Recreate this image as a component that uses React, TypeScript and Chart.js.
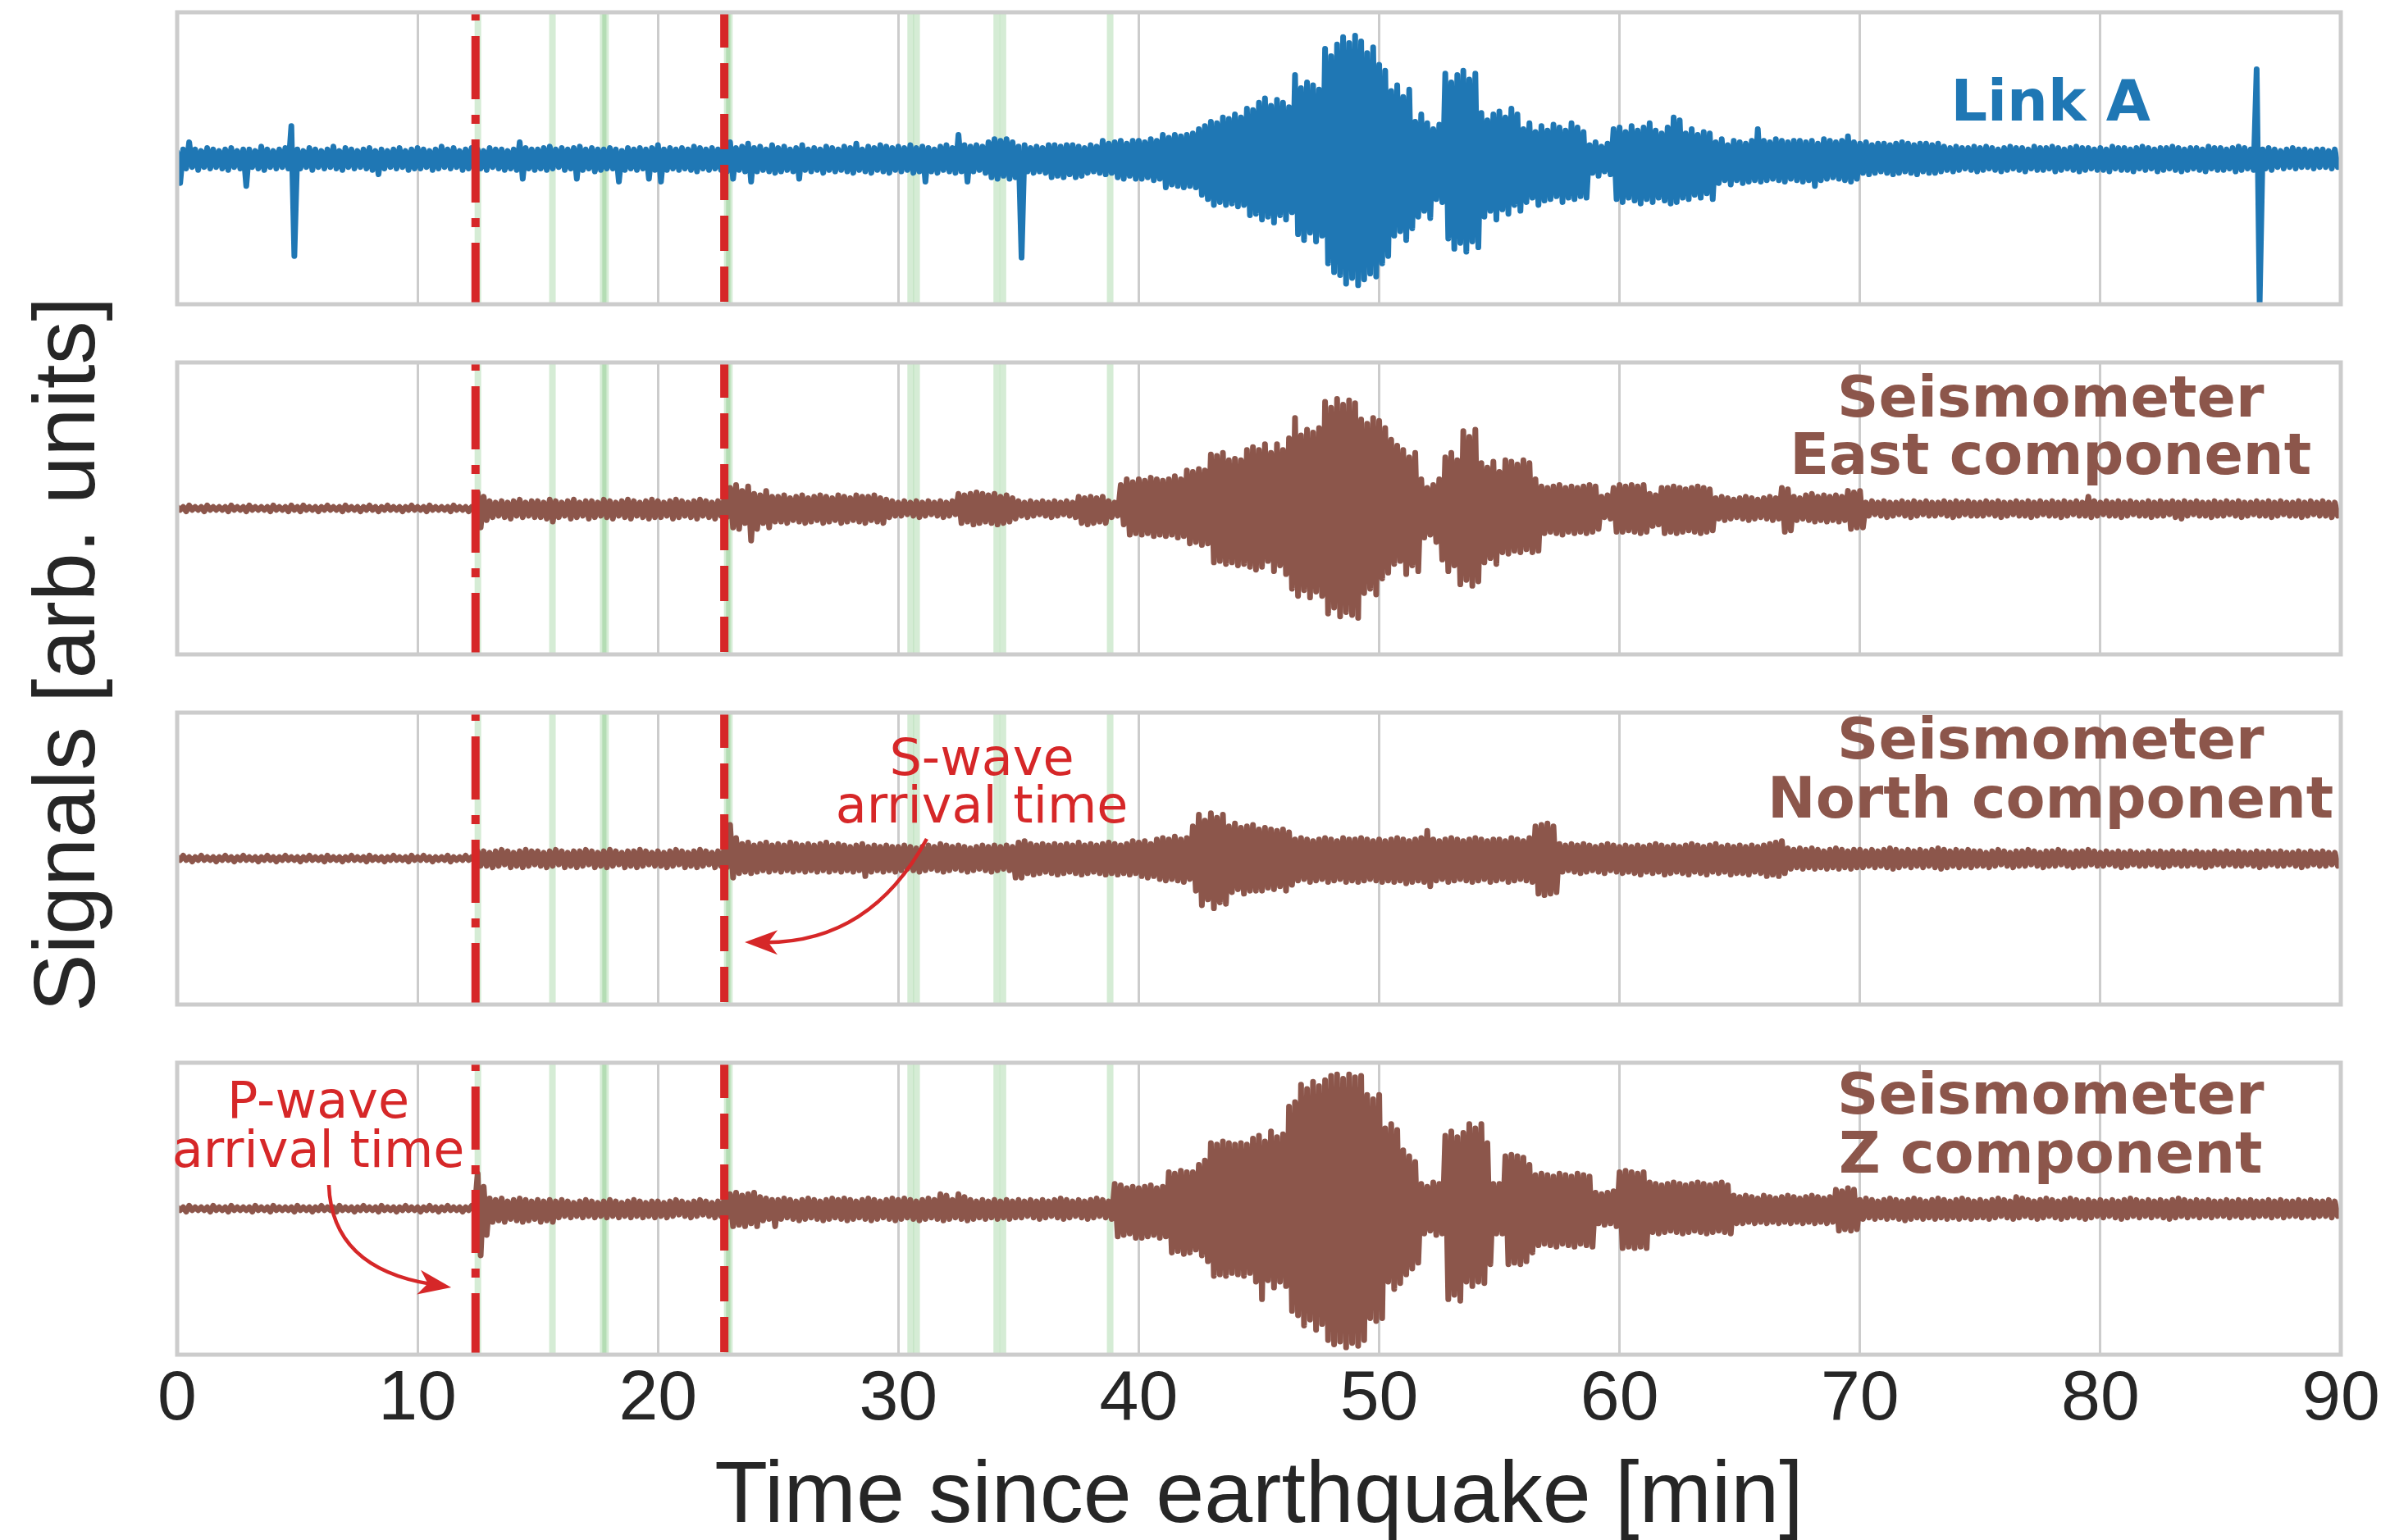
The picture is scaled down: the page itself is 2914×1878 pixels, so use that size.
import React, { useEffect, useRef } from "react";
import { Chart, registerables } from "chart.js";

Chart.register(...registerables);

// ---- figure layout (pixels) ----
const FIG_W = 2914;
const FIG_H = 1878;
const CANVAS_H = 1900;
const PLOT_LEFT = 216;
const PLOT_RIGHT = 2854;
const PANEL_TOPS = [15, 442, 869, 1296];
const PANEL_H = 356;

// ---- axis ----
const X_MIN = 0;
const X_MAX = 90;
const X_STEP = 10;
const X_TITLE = "Time since earthquake [min]";
const Y_TITLE = "Signals [arb. units]";

// Waveforms are stored as min/max envelopes per 0.25-minute bin,
// in hundredths of the panel half-height.
const BIN_MIN = 0.25;

const linkAMax = [
  4, 6, 11, 6, 5, 7, 6, 5, 6, 7, 5, 6, 6, 5, 8, 6, 5, 6, 7, 22,
  6, 5, 7, 6, 5, 6, 8, 5, 7, 6, 5, 6, 7, 5, 6, 5, 6, 7, 5, 6,
  7, 6, 5, 6, 8, 6, 7, 5, 6, 7, 6, 5, 7, 6, 6, 5, 6, 11, 7, 6,
  6, 7, 8, 6, 7, 6, 7, 8, 6, 7, 6, 6, 7, 6, 5, 7, 6, 7, 6, 7,
  9, 6, 7, 6, 7, 6, 8, 7, 6, 7, 6, 7, 11, 7, 8, 10, 7, 8, 6, 9,
  7, 8, 6, 7, 9, 6, 7, 6, 8, 7, 6, 8, 7, 10, 6, 8, 7, 9, 8, 7,
  8, 7, 9, 7, 8, 7, 6, 8, 9, 7, 16, 9, 8, 9, 8, 11, 13, 12, 13, 11,
  8, 9, 7, 8, 7, 9, 9, 8, 9, 9, 8, 7, 9, 8, 12, 10, 11, 12, 10, 12,
  12, 11, 13, 12, 16, 14, 16, 15, 16, 17, 20, 22, 25, 24, 28, 27, 30, 28, 34, 33,
  38, 41, 36, 40, 38, 35, 57, 48, 52, 50, 47, 75, 70, 78, 83, 79, 84, 80, 72, 76,
  64, 60, 46, 50, 42, 47, 25, 30, 24, 20, 23, 58, 52, 57, 60, 54, 58, 31, 26, 30,
  32, 28, 34, 30, 20, 24, 18, 22, 19, 23, 21, 19, 24, 21, 18, 9, 11, 8, 10, 20,
  21, 18, 22, 19, 21, 24, 19, 17, 21, 28, 26, 17, 20, 16, 18, 17, 11, 13, 9, 12,
  11, 10, 12, 20, 12, 11, 13, 12, 11, 12, 12, 11, 12, 10, 13, 12, 11, 12, 15, 11,
  10, 11, 9, 10, 10, 9, 10, 11, 10, 9, 10, 10, 9, 10, 8, 7, 8, 7, 7, 8,
  7, 8, 7, 6, 7, 8, 7, 7, 6, 8, 7, 7, 8, 7, 6, 7, 8, 7, 7, 6,
  7, 6, 8, 7, 7, 6, 7, 8, 7, 6, 7, 7, 8, 7, 6, 7, 7, 6, 8, 7,
  7, 6, 7, 8, 7, 6, 61, 6, 7, 6, 5, 6, 7, 6, 6, 5, 6, 6, 5, 6,
];
const linkAMin = [
  -17, -7, -6, -8, -6, -7, -6, -7, -8, -6, -7, -19, -6, -7, -8, -6, -7, -6, -7, -67,
  -7, -6, -8, -6, -7, -6, -7, -8, -6, -7, -6, -7, -8, -11, -7, -6, -7, -6, -8, -7,
  -7, -6, -8, -7, -6, -7, -6, -8, -7, -6, -7, -8, -6, -7, -8, -7, -8, -14, -7, -8,
  -7, -8, -7, -6, -8, -7, -14, -8, -7, -9, -8, -7, -7, -16, -8, -7, -8, -7, -14, -8,
  -16, -8, -7, -8, -7, -8, -9, -7, -8, -7, -8, -9, -14, -8, -9, -16, -9, -8, -9, -10,
  -9, -8, -9, -14, -8, -9, -8, -10, -8, -9, -8, -9, -10, -8, -9, -10, -8, -9, -10, -8,
  -9, -8, -10, -9, -16, -9, -10, -8, -9, -10, -9, -16, -9, -8, -10, -13, -14, -12, -14, -13,
  -68, -9, -10, -9, -10, -13, -12, -13, -11, -13, -12, -10, -9, -10, -11, -10, -13, -14, -12, -14,
  -14, -13, -15, -14, -20, -18, -19, -20, -19, -20, -25, -28, -32, -30, -32, -31, -33, -32, -39, -38,
  -42, -40, -44, -39, -42, -37, -52, -56, -51, -57, -53, -72, -78, -80, -86, -82, -87, -83, -79, -81,
  -72, -67, -53, -50, -56, -48, -40, -36, -41, -28, -30, -55, -62, -58, -64, -57, -61, -40, -36, -42,
  -35, -38, -32, -36, -30, -27, -32, -29, -28, -26, -30, -27, -28, -26, -27, -10, -12, -9, -11, -28,
  -30, -27, -29, -31, -28, -30, -27, -29, -31, -30, -27, -28, -25, -27, -24, -28, -17, -15, -18, -15,
  -17, -16, -15, -16, -15, -14, -15, -16, -14, -15, -16, -15, -19, -15, -14, -13, -14, -15, -16, -14,
  -10, -11, -10, -9, -10, -11, -10, -9, -10, -11, -9, -10, -10, -9, -8, -9, -8, -7, -8, -9,
  -8, -7, -8, -9, -8, -7, -8, -9, -7, -8, -8, -7, -9, -8, -7, -8, -9, -8, -7, -8,
  -8, -9, -7, -8, -8, -9, -7, -8, -7, -9, -8, -7, -8, -9, -8, -7, -8, -9, -7, -8,
  -8, -7, -9, -8, -7, -8, -99, -7, -8, -6, -7, -6, -7, -6, -6, -7, -6, -6, -7, -6,
];

const eastMax = [
  1, 1, 2, 1, 1, 2, 1, 1, 1, 2, 1, 1, 2, 1, 1, 1, 2, 1, 1, 2,
  1, 2, 1, 1, 1, 2, 1, 1, 2, 1, 1, 1, 2, 1, 1, 2, 1, 1, 1, 2,
  1, 1, 2, 1, 1, 1, 2, 1, 1, 1, 11, 8, 5, 4, 5, 4, 5, 6, 4, 5,
  5, 4, 6, 5, 4, 5, 6, 4, 5, 5, 4, 6, 5, 4, 5, 6, 5, 4, 5, 6,
  5, 4, 5, 6, 5, 4, 5, 6, 5, 4, 5, 6, 14, 16, 12, 15, 10, 9, 12, 8,
  8, 9, 7, 8, 9, 7, 8, 9, 8, 7, 9, 8, 7, 9, 8, 8, 9, 7, 6, 5,
  4, 5, 4, 5, 4, 5, 4, 5, 4, 5, 10, 9, 10, 11, 10, 9, 10, 8, 9, 7,
  5, 4, 5, 4, 5, 4, 5, 4, 5, 4, 8, 7, 8, 7, 8, 5, 4, 16, 20, 18,
  20, 19, 21, 20, 19, 20, 22, 20, 26, 25, 27, 26, 37, 36, 38, 33, 34, 33, 40, 42,
  40, 44, 38, 44, 40, 48, 62, 50, 54, 52, 55, 73, 69, 75, 71, 74, 72, 61, 58, 62,
  60, 55, 47, 43, 40, 35, 38, 20, 14, 16, 20, 35, 38, 33, 53, 49, 54, 31, 28, 32,
  25, 33, 32, 30, 33, 31, 20, 15, 14, 15, 16, 14, 15, 14, 15, 16, 15, 8, 9, 14,
  16, 15, 16, 15, 16, 10, 9, 14, 14, 15, 14, 13, 14, 15, 14, 13, 7, 8, 7, 6,
  7, 8, 7, 6, 7, 8, 7, 14, 13, 8, 7, 9, 10, 8, 9, 8, 9, 8, 12, 11,
  12, 4, 5, 4, 5, 4, 4, 5, 4, 5, 4, 5, 4, 4, 5, 4, 5, 4, 5, 4,
  4, 5, 4, 5, 4, 4, 5, 4, 5, 4, 5, 4, 5, 4, 5, 4, 5, 4, 8, 5,
  4, 5, 4, 5, 4, 5, 4, 4, 5, 4, 5, 4, 5, 4, 5, 4, 5, 4, 4, 5,
  4, 5, 4, 5, 4, 4, 5, 4, 5, 4, 5, 4, 4, 5, 4, 5, 4, 5, 4, 4,
];
const eastMin = [
  -1, -2, -1, -1, -2, -1, -1, -1, -2, -1, -1, -2, -1, -1, -1, -2, -1, -1, -2, -1,
  -2, -1, -1, -2, -1, -1, -1, -2, -1, -1, -2, -1, -1, -2, -1, -1, -1, -2, -1, -1,
  -1, -2, -1, -1, -1, -2, -1, -1, -2, -1, -13, -8, -6, -5, -6, -7, -5, -6, -5, -6,
  -6, -7, -9, -6, -5, -7, -6, -5, -7, -6, -5, -6, -7, -5, -6, -7, -5, -6, -7, -6,
  -6, -5, -7, -6, -5, -6, -7, -5, -6, -7, -5, -6, -13, -14, -10, -22, -14, -10, -13, -9,
  -9, -10, -8, -9, -10, -9, -8, -10, -9, -8, -10, -9, -8, -9, -10, -8, -9, -10, -6, -5,
  -5, -4, -5, -6, -5, -4, -5, -6, -5, -4, -10, -9, -11, -10, -9, -10, -11, -10, -9, -7,
  -5, -6, -5, -4, -5, -6, -5, -4, -5, -6, -10, -11, -10, -9, -10, -6, -5, -11, -18, -17,
  -18, -17, -19, -18, -19, -18, -20, -19, -24, -23, -25, -24, -37, -36, -38, -37, -39, -38, -40, -42,
  -40, -36, -43, -39, -45, -55, -60, -56, -61, -57, -60, -72, -68, -74, -71, -73, -75, -58, -55, -59,
  -48, -44, -38, -36, -45, -39, -43, -20, -18, -23, -35, -43, -39, -52, -49, -53, -50, -37, -34, -38,
  -30, -31, -29, -30, -28, -30, -29, -17, -16, -17, -18, -16, -17, -16, -17, -16, -14, -6, -7, -16,
  -16, -15, -16, -17, -16, -12, -11, -17, -16, -17, -16, -15, -16, -17, -16, -15, -7, -8, -7, -6,
  -7, -8, -7, -6, -7, -8, -7, -16, -15, -8, -7, -8, -9, -8, -9, -8, -9, -8, -14, -13,
  -13, -5, -4, -5, -6, -5, -4, -5, -6, -5, -4, -5, -5, -4, -5, -6, -5, -4, -5, -5,
  -5, -4, -5, -6, -5, -4, -5, -5, -6, -5, -4, -5, -5, -6, -5, -4, -5, -5, -6, -5,
  -4, -5, -5, -6, -5, -4, -5, -5, -6, -5, -5, -4, -6, -7, -5, -4, -5, -5, -6, -5,
  -5, -4, -5, -6, -5, -4, -5, -5, -6, -5, -4, -5, -5, -6, -5, -4, -5, -5, -6, -5,
];

const northMax = [
  1, 2, 1, 1, 2, 1, 1, 1, 2, 1, 1, 2, 1, 1, 1, 2, 1, 1, 2, 1,
  1, 1, 2, 1, 1, 2, 1, 1, 1, 2, 1, 1, 2, 1, 1, 1, 2, 1, 1, 2,
  1, 2, 1, 1, 1, 2, 1, 1, 2, 1, 5, 5, 4, 5, 6, 5, 4, 5, 6, 5,
  5, 4, 5, 6, 5, 4, 5, 5, 6, 5, 4, 5, 6, 5, 4, 5, 5, 6, 5, 4,
  5, 4, 5, 6, 5, 4, 5, 6, 5, 4, 5, 6, 23, 14, 10, 11, 9, 10, 11, 9,
  10, 9, 11, 10, 9, 10, 9, 10, 11, 9, 10, 9, 8, 9, 10, 8, 9, 8, 9, 8,
  8, 9, 8, 7, 8, 9, 8, 10, 9, 8, 9, 8, 7, 8, 9, 8, 9, 8, 9, 8,
  11, 12, 10, 9, 10, 9, 10, 9, 10, 9, 11, 9, 10, 9, 10, 11, 10, 9, 10, 12,
  11, 12, 10, 13, 14, 13, 15, 13, 14, 22, 30, 26, 31, 28, 30, 22, 24, 21, 22, 23,
  20, 21, 20, 19, 20, 18, 13, 14, 13, 12, 13, 14, 13, 12, 14, 13, 13, 14, 13, 12,
  13, 12, 13, 14, 13, 12, 13, 14, 19, 13, 12, 13, 14, 13, 12, 13, 14, 13, 12, 13,
  13, 12, 14, 13, 12, 14, 22, 23, 24, 22, 10, 9, 10, 9, 10, 9, 8, 9, 10, 9,
  8, 9, 8, 9, 8, 9, 10, 9, 8, 9, 8, 9, 10, 9, 8, 9, 10, 8, 9, 8,
  9, 8, 9, 8, 9, 10, 11, 12, 7, 6, 7, 6, 7, 6, 5, 6, 7, 6, 5, 6,
  6, 5, 6, 5, 6, 7, 6, 5, 6, 5, 6, 5, 6, 7, 6, 5, 6, 5, 6, 5,
  5, 4, 5, 6, 5, 4, 5, 5, 6, 5, 4, 5, 5, 6, 5, 4, 5, 5, 6, 5,
  4, 5, 4, 5, 4, 5, 4, 4, 5, 4, 5, 4, 5, 4, 5, 4, 5, 4, 4, 5,
  4, 5, 4, 5, 4, 4, 5, 4, 5, 4, 5, 4, 4, 5, 4, 5, 4, 5, 4, 4,
];
const northMin = [
  -1, -1, -2, -1, -1, -1, -2, -1, -1, -2, -1, -1, -1, -2, -1, -1, -2, -1, -1, -1,
  -2, -1, -1, -1, -2, -1, -1, -2, -1, -1, -1, -2, -1, -1, -2, -1, -1, -1, -2, -1,
  -1, -1, -2, -1, -1, -2, -1, -1, -1, -2, -5, -5, -6, -5, -4, -6, -5, -6, -5, -4,
  -5, -6, -5, -4, -6, -5, -6, -5, -4, -6, -5, -6, -5, -4, -6, -5, -6, -5, -4, -5,
  -5, -6, -5, -4, -6, -5, -6, -5, -4, -6, -5, -6, -13, -10, -9, -10, -9, -8, -9, -8,
  -9, -8, -9, -8, -9, -8, -9, -8, -9, -8, -9, -8, -9, -8, -12, -9, -8, -9, -8, -9,
  -8, -7, -8, -9, -8, -7, -8, -9, -8, -7, -8, -9, -8, -7, -8, -9, -8, -7, -8, -13,
  -13, -10, -11, -10, -9, -10, -11, -10, -9, -10, -11, -10, -9, -10, -11, -10, -11, -10, -11, -10,
  -12, -13, -12, -14, -15, -14, -15, -16, -14, -22, -32, -28, -34, -30, -31, -23, -21, -24, -22, -22,
  -22, -20, -21, -19, -22, -18, -15, -14, -16, -15, -14, -16, -15, -14, -16, -15, -16, -15, -14, -15,
  -16, -15, -16, -15, -17, -16, -15, -16, -19, -15, -14, -16, -15, -14, -15, -16, -15, -14, -16, -15,
  -14, -16, -15, -14, -15, -16, -24, -25, -24, -23, -9, -8, -9, -10, -9, -8, -9, -10, -8, -9,
  -10, -9, -10, -11, -9, -10, -9, -11, -10, -9, -10, -11, -9, -10, -11, -9, -10, -9, -11, -10,
  -10, -11, -9, -10, -12, -11, -12, -10, -7, -6, -7, -6, -7, -6, -7, -6, -7, -6, -7, -6,
  -6, -5, -6, -5, -6, -7, -6, -5, -6, -5, -6, -5, -6, -7, -6, -5, -6, -5, -6, -5,
  -5, -6, -5, -4, -5, -6, -5, -5, -4, -5, -6, -5, -5, -4, -5, -6, -5, -5, -4, -5,
  -5, -4, -5, -6, -5, -4, -5, -5, -4, -5, -6, -5, -4, -5, -5, -4, -5, -6, -5, -4,
  -5, -4, -5, -5, -4, -5, -6, -5, -4, -5, -5, -4, -5, -6, -5, -4, -5, -5, -4, -5,
];

const zMax = [
  1, 1, 2, 1, 1, 1, 2, 1, 1, 2, 1, 1, 1, 2, 1, 1, 2, 1, 1, 1,
  2, 1, 1, 1, 2, 1, 1, 2, 1, 1, 1, 2, 1, 1, 2, 1, 1, 1, 2, 1,
  1, 1, 2, 1, 1, 2, 1, 1, 1, 2, 24, 15, 7, 6, 7, 5, 6, 7, 6, 5,
  6, 5, 6, 5, 6, 5, 4, 5, 6, 5, 4, 5, 6, 5, 4, 5, 6, 5, 4, 5,
  5, 4, 5, 6, 5, 4, 5, 6, 5, 4, 5, 6, 10, 11, 9, 10, 11, 8, 7, 6,
  6, 7, 6, 5, 6, 7, 6, 5, 6, 7, 6, 7, 6, 5, 6, 7, 6, 5, 6, 7,
  6, 7, 6, 5, 6, 7, 6, 10, 9, 6, 10, 8, 6, 5, 6, 5, 6, 5, 6, 5,
  6, 5, 6, 5, 6, 5, 6, 7, 6, 5, 6, 5, 6, 7, 6, 5, 17, 16, 14, 15,
  14, 15, 16, 14, 15, 25, 24, 26, 25, 25, 30, 33, 45, 44, 46, 45, 44, 45, 44, 48,
  50, 46, 53, 49, 51, 70, 73, 85, 82, 87, 84, 88, 91, 92, 89, 92, 90, 91, 78, 75,
  78, 55, 58, 54, 40, 36, 32, 17, 15, 18, 17, 50, 53, 49, 52, 58, 55, 58, 45, 17,
  17, 36, 37, 36, 35, 30, 23, 24, 23, 22, 24, 23, 22, 24, 23, 22, 11, 10, 11, 12,
  25, 26, 25, 24, 25, 18, 17, 16, 17, 18, 17, 16, 17, 18, 17, 16, 17, 18, 16, 9,
  8, 9, 8, 7, 9, 8, 7, 8, 9, 8, 7, 8, 9, 8, 7, 8, 13, 12, 14, 13,
  6, 7, 6, 5, 6, 7, 6, 5, 6, 7, 6, 5, 6, 7, 6, 5, 6, 7, 6, 5,
  6, 5, 6, 7, 6, 5, 8, 7, 6, 5, 6, 7, 6, 5, 6, 7, 6, 5, 6, 5,
  6, 5, 6, 5, 6, 7, 6, 5, 6, 5, 6, 5, 6, 7, 6, 5, 6, 5, 6, 5,
  5, 6, 5, 6, 5, 6, 5, 5, 6, 5, 6, 5, 5, 6, 5, 6, 5, 5, 6, 5,
];
const zMin = [
  -1, -2, -1, -1, -1, -2, -1, -1, -2, -1, -1, -1, -2, -1, -1, -2, -1, -1, -1, -2,
  -1, -1, -2, -1, -1, -1, -2, -1, -1, -2, -1, -1, -1, -2, -1, -1, -2, -1, -1, -1,
  -2, -1, -1, -2, -1, -1, -1, -2, -1, -1, -32, -18, -9, -8, -9, -7, -8, -9, -8, -7,
  -9, -8, -9, -6, -5, -6, -5, -6, -5, -6, -5, -6, -5, -6, -5, -6, -5, -6, -5, -6,
  -5, -6, -5, -4, -5, -6, -5, -4, -5, -6, -5, -6, -12, -11, -12, -10, -12, -8, -7, -12,
  -7, -6, -7, -8, -7, -6, -7, -8, -7, -6, -7, -8, -7, -6, -7, -8, -7, -6, -7, -8,
  -7, -6, -7, -8, -7, -6, -7, -8, -7, -6, -7, -8, -7, -6, -7, -6, -7, -6, -7, -6,
  -6, -5, -6, -7, -6, -5, -6, -7, -6, -5, -6, -7, -6, -5, -6, -7, -19, -18, -17, -20,
  -20, -19, -18, -20, -19, -30, -29, -31, -30, -28, -32, -36, -46, -45, -46, -44, -45, -46, -44, -50,
  -62, -49, -54, -50, -53, -70, -73, -80, -76, -83, -79, -90, -93, -91, -95, -92, -94, -90, -75, -77,
  -75, -50, -55, -51, -45, -41, -37, -17, -15, -18, -17, -62, -59, -63, -50, -53, -50, -51, -38, -17,
  -17, -38, -37, -38, -36, -30, -25, -24, -25, -26, -24, -25, -26, -24, -25, -26, -10, -11, -10, -12,
  -27, -26, -27, -26, -27, -16, -17, -16, -15, -16, -17, -16, -15, -16, -17, -16, -15, -16, -17, -10,
  -10, -9, -10, -9, -10, -9, -10, -9, -10, -9, -10, -9, -10, -9, -10, -9, -15, -14, -15, -14,
  -7, -6, -7, -6, -7, -6, -7, -8, -7, -6, -7, -6, -7, -6, -7, -6, -7, -6, -7, -6,
  -6, -7, -6, -5, -6, -7, -6, -5, -6, -7, -6, -5, -6, -7, -6, -5, -6, -7, -6, -5,
  -6, -5, -6, -7, -6, -5, -6, -5, -6, -5, -6, -7, -6, -5, -6, -5, -6, -5, -6, -5,
  -5, -6, -5, -6, -5, -6, -5, -5, -6, -5, -6, -5, -5, -6, -5, -6, -5, -5, -6, -5,
];

// Arrival picks (minutes) and catalogue event markers (minutes)
const P_WAVE_MIN = 12.41;
const S_WAVE_MIN = 22.76;
const eventMarkers = [12.51, 15.61, 17.72, 17.82, 22.88, 22.97, 30.51, 30.76, 34.09, 34.35, 38.81];

// ---- colours and fonts ----
const BLUE = "#1f77b4";
const BROWN = "#8c564b";
const RED = "#d62728";
const GREEN = "rgba(44,160,44,0.2)";
const GRID = "#cccccc";
const INK = "#262626";
const SANS = "'Liberation Sans', Arial, sans-serif";
const DEJAVU = "'DejaVu Sans', sans-serif";

type Note = { lines: string[]; x: number; baselines: number[] };
type Arrow = { from: [number, number]; via: [number, number]; to: [number, number] };
type PanelSpec = {
  max: number[];
  min: number[];
  color: string;
  label: Note;
  note?: Note;
  arrow?: Arrow;
};

const PANELS: PanelSpec[] = [
  { max: linkAMax, min: linkAMin, color: BLUE, label: { lines: ["Link A"], x: 77.93, baselines: [0.258] } },
  {
    max: eastMax, min: eastMin, color: BROWN,
    label: { lines: ["Seismometer", "East component"], x: 77.93, baselines: [0.629, 0.236] },
  },
  {
    max: northMax, min: northMin, color: BROWN,
    label: { lines: ["Seismometer", "North component"], x: 77.93, baselines: [0.685, 0.281] },
    note: { lines: ["S-wave", "arrival time"], x: 33.47, baselines: [0.573, 0.247] },
    arrow: { from: [31.18, 0.135], via: [28.83, -0.579], to: [23.61, -0.573] },
  },
  {
    max: zMax, min: zMin, color: BROWN,
    label: { lines: ["Seismometer", "Z component"], x: 77.93, baselines: [0.652, 0.247] },
    note: { lines: ["P-wave", "arrival time"], x: 5.87, baselines: [0.624, 0.287] },
    arrow: { from: [6.31, 0.163], via: [6.43, -0.407], to: [11.4, -0.539] },
  },
];

function envelopePoints(maxVals: number[], minVals: number[]) {
  const pts: { x: number; y: number }[] = [];
  maxVals.forEach((hi, i) => {
    const t = i * BIN_MIN;
    pts.push({ x: t, y: hi / 100 });
    pts.push({ x: t + BIN_MIN / 2, y: minVals[i] / 100 });
  });
  return pts;
}

function verticalLine(t: number, color: string, width: number, order: number, dash: number[] = [], offset = 0) {
  return {
    type: "line" as const,
    data: [{ x: t, y: 1 }, { x: t, y: -1 }],
    borderColor: color,
    borderWidth: width,
    borderDash: dash,
    borderDashOffset: offset,
    borderCapStyle: "butt" as const,
    pointRadius: 0,
    order,
  };
}

function buildConfig(spec: PanelSpec, index: number): any {
  const isLast = index === PANELS.length - 1;
  const top = PANEL_TOPS[index];
  const bottomPad = isLast ? 0 : CANVAS_H - (top + PANEL_H);

  const decor = {
    id: "panelDecor" + index,
    afterDatasetsDraw(chart: any) {
      const { ctx, chartArea, scales } = chart;
      const xs = scales.x;
      const ys = scales.y;
      const P = (p: [number, number]) => ({ x: xs.getPixelForValue(p[0]), y: ys.getPixelForValue(p[1]) });
      ctx.save();
      // frame
      ctx.strokeStyle = GRID;
      ctx.lineWidth = 5;
      ctx.strokeRect(chartArea.left, chartArea.top, chartArea.right - chartArea.left, chartArea.bottom - chartArea.top);

      // panel label
      ctx.fillStyle = spec.color;
      ctx.textAlign = "center";
      ctx.textBaseline = "alphabetic";
      ctx.font = `bold 70px ${DEJAVU}`;
      spec.label.lines.forEach((ln, k) => {
        ctx.fillText(ln, xs.getPixelForValue(spec.label.x), ys.getPixelForValue(spec.label.baselines[k]));
      });

      // arrival-time annotation
      if (spec.note) {
        ctx.fillStyle = RED;
        ctx.font = `62px ${DEJAVU}`;
        spec.note.lines.forEach((ln, k) => {
          ctx.fillText(ln, xs.getPixelForValue(spec.note!.x), ys.getPixelForValue(spec.note!.baselines[k]));
        });
      }
      if (spec.arrow) {
        const a = P(spec.arrow.from);
        const c = P(spec.arrow.via);
        const b = P(spec.arrow.to);
        const dx = b.x - c.x;
        const dy = b.y - c.y;
        const len = Math.hypot(dx, dy) || 1;
        const ux = dx / len;
        const uy = dy / len;
        const headLen = 40;
        const headHalf = 15;
        const stem = { x: b.x - ux * headLen * 0.6, y: b.y - uy * headLen * 0.6 };
        ctx.strokeStyle = RED;
        ctx.lineWidth = 4.5;
        ctx.beginPath();
        ctx.moveTo(a.x, a.y);
        ctx.quadraticCurveTo(c.x, c.y, stem.x, stem.y);
        ctx.stroke();
        const base = { x: b.x - ux * headLen, y: b.y - uy * headLen };
        ctx.fillStyle = RED;
        ctx.beginPath();
        ctx.moveTo(b.x, b.y);
        ctx.lineTo(base.x - uy * headHalf, base.y + ux * headHalf);
        ctx.lineTo(b.x - ux * headLen * 0.72, b.y - uy * headLen * 0.72);
        ctx.lineTo(base.x + uy * headHalf, base.y - ux * headHalf);
        ctx.closePath();
        ctx.fill();
      }
      ctx.restore();
    },
    afterDraw(chart: any) {
      if (!isLast) return;
      const { ctx } = chart;
      ctx.save();
      ctx.fillStyle = INK;
      ctx.font = `106px ${SANS}`;
      ctx.textAlign = "center";
      ctx.textBaseline = "alphabetic";
      ctx.translate(115, 798);
      ctx.rotate(-Math.PI / 2);
      ctx.fillText(Y_TITLE, 0, 0);
      ctx.restore();
    },
  };

  const datasets: any[] = [
    ...eventMarkers.map((t) => verticalLine(t, GREEN, 8, 3)),
    {
      type: "line",
      data: envelopePoints(spec.max, spec.min),
      borderColor: spec.color,
      borderWidth: 7,
      borderJoinStyle: "round",
      borderCapStyle: "round",
      pointRadius: 0,
      tension: 0,
      order: 2,
    },
    verticalLine(P_WAVE_MIN, RED, 10, 1, [11, 19, 77, 19], 1),
    verticalLine(S_WAVE_MIN, RED, 10, 1, [43, 19], 0),
  ];

  return {
    type: "line",
    data: { datasets },
    options: {
      responsive: false,
      maintainAspectRatio: false,
      animation: false,
      devicePixelRatio: 1,
      events: [],
      layout: {
        autoPadding: false,
        padding: { left: PLOT_LEFT, right: FIG_W - PLOT_RIGHT, top, bottom: bottomPad },
      },
      plugins: { legend: { display: false }, tooltip: { enabled: false }, title: { display: false } },
      scales: {
        x: {
          type: "linear",
          min: X_MIN,
          max: X_MAX,
          border: { display: false },
          grid: { color: GRID, lineWidth: 3, drawTicks: false },
          ticks: {
            display: isLast,
            stepSize: X_STEP,
            autoSkip: false,
            maxRotation: 0,
            padding: 4,
            color: INK,
            font: { family: SANS, size: 86, lineHeight: 1.2 },
          },
          title: {
            display: isLast,
            text: X_TITLE,
            color: INK,
            font: { family: SANS, size: 106, lineHeight: 1.0 },
            padding: { top: 10.8, bottom: 20 },
          },
        },
        y: { type: "linear", min: -1, max: 1, display: false },
      },
    },
    plugins: [decor],
  };
}

function PanelChart({ spec, index }: { spec: PanelSpec; index: number }) {
  const ref = useRef<HTMLCanvasElement>(null);
  useEffect(() => {
    if (!ref.current) return;
    const chart = new Chart(ref.current, buildConfig(spec, index));
    return () => chart.destroy();
  }, [spec, index]);
  return (
    <canvas
      ref={ref}
      width={FIG_W}
      height={CANVAS_H}
      style={{ position: "absolute", left: 0, top: 0, width: FIG_W, height: CANVAS_H }}
    />
  );
}

export default function App() {
  return (
    <div
      style={{
        position: "fixed",
        left: 0,
        top: 0,
        width: FIG_W,
        height: FIG_H,
        overflow: "hidden",
        background: "#ffffff",
      }}
    >
      {PANELS.map((p, i) => (
        <PanelChart key={i} spec={p} index={i} />
      ))}
    </div>
  );
}
